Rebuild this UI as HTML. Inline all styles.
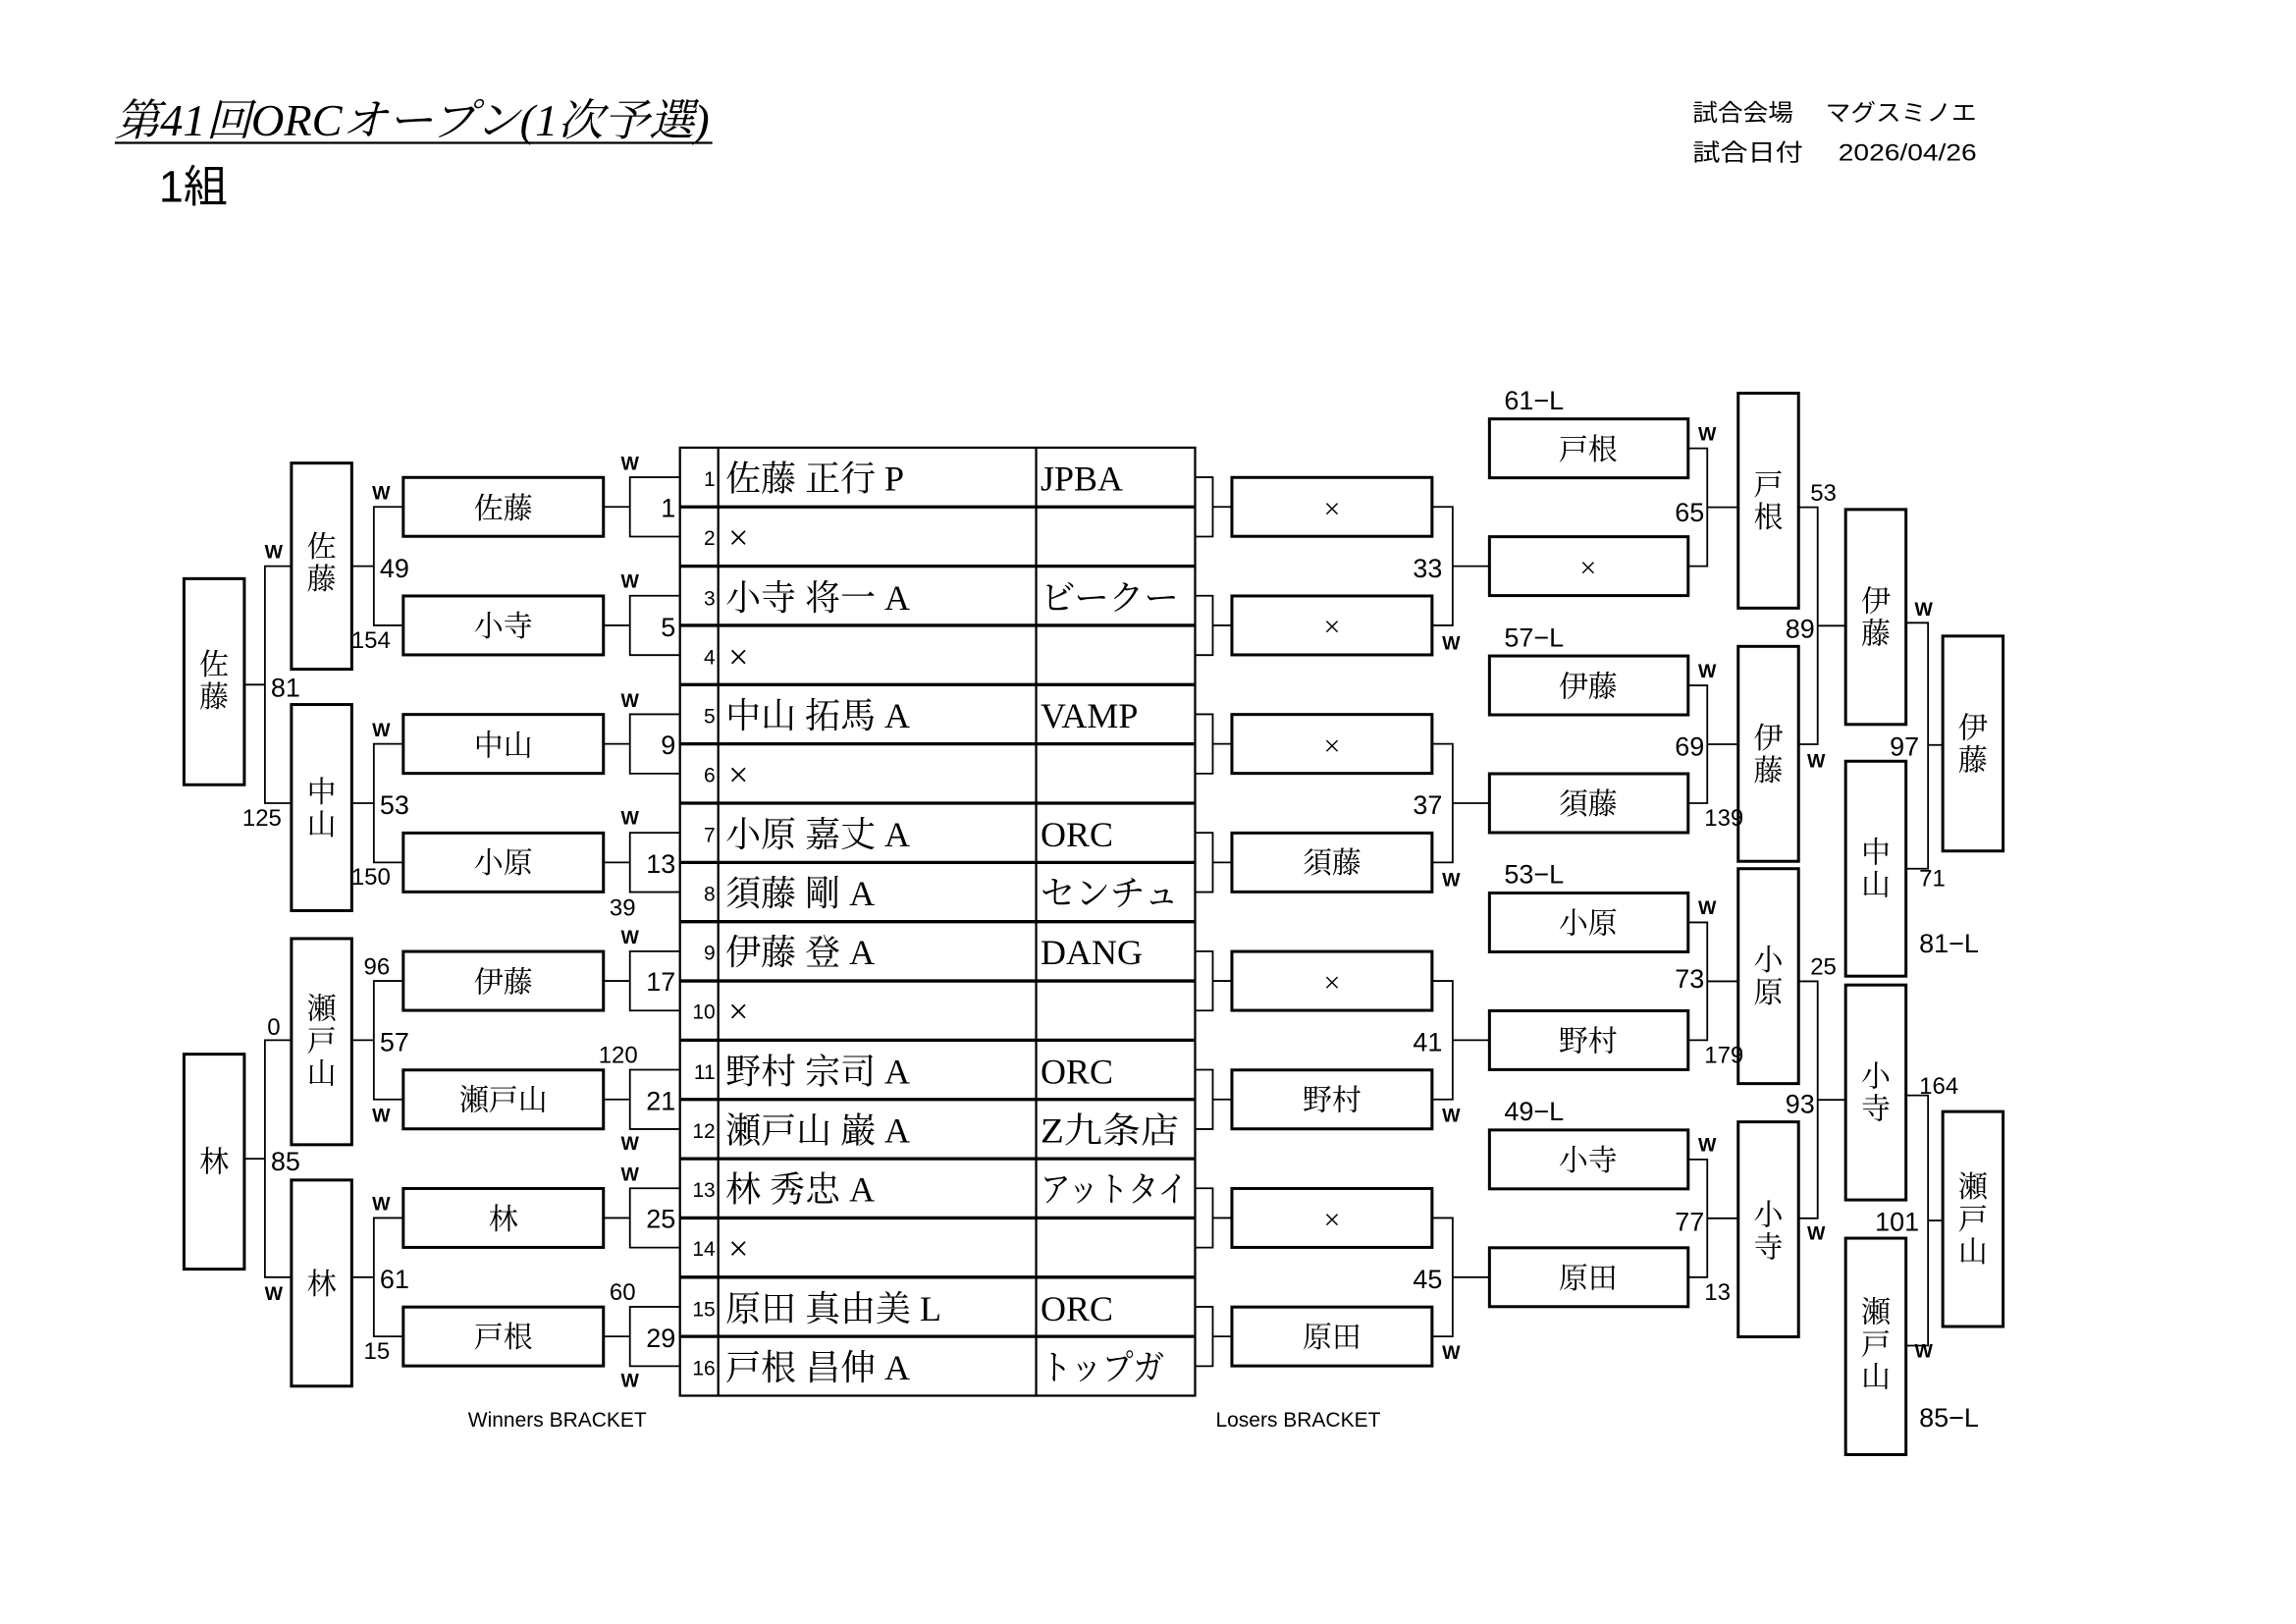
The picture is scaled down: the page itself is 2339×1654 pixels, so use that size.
<!DOCTYPE html>
<html><head><meta charset="utf-8"><style>
html,body{margin:0;padding:0;background:#fff;}
svg{display:block;}
.g{font-family:"Liberation Sans","Noto Sans CJK JP",sans-serif;fill:#000;}
.m{font-family:"Liberation Serif","Noto Serif CJK SC",serif;fill:#000;}
.w{font-family:"Liberation Sans",sans-serif;font-size:13px;font-weight:bold;text-anchor:middle;}
.b{fill:#fff;stroke:#000;stroke-width:2;}
.l{fill:none;stroke:#000;stroke-width:1.2;}
</style></head><body>
<svg width="2339" height="1654" viewBox="0 0 1560 1103" xmlns="http://www.w3.org/2000/svg">
<rect width="1560" height="1103" fill="#fff"/>
<text x="78" y="92" class="m" font-size="30" font-style="italic" textLength="404" lengthAdjust="spacingAndGlyphs">第41回ORCオープン(1次予選)</text>
<line x1="78" y1="97" x2="484" y2="97" stroke="#000" stroke-width="1.5"/>
<text x="108" y="137" class="g" font-size="30">1組</text>
<text x="1150" y="82" class="g" font-size="16" textLength="193" lengthAdjust="spacingAndGlyphs">試合会場　 マグスミノエ</text>
<text x="1150" y="109" class="g" font-size="16" textLength="193" lengthAdjust="spacingAndGlyphs">試合日付　 2026/04/26</text>

<rect x="462" y="304" width="350" height="644" fill="none" stroke="#000" stroke-width="1.5"/>
<line x1="488" y1="304" x2="488" y2="948" stroke="#000" stroke-width="1.5"/>
<line x1="704" y1="304" x2="704" y2="948" stroke="#000" stroke-width="1.5"/>
<g stroke="#000" stroke-width="2.2">
<line x1="462" y1="344.25" x2="812" y2="344.25"/><line x1="462" y1="384.5" x2="812" y2="384.5"/>
<line x1="462" y1="424.75" x2="812" y2="424.75"/><line x1="462" y1="465" x2="812" y2="465"/>
<line x1="462" y1="505.25" x2="812" y2="505.25"/><line x1="462" y1="545.5" x2="812" y2="545.5"/>
<line x1="462" y1="585.75" x2="812" y2="585.75"/><line x1="462" y1="626" x2="812" y2="626"/>
<line x1="462" y1="666.25" x2="812" y2="666.25"/><line x1="462" y1="706.5" x2="812" y2="706.5"/>
<line x1="462" y1="746.75" x2="812" y2="746.75"/><line x1="462" y1="787" x2="812" y2="787"/>
<line x1="462" y1="827.25" x2="812" y2="827.25"/><line x1="462" y1="867.5" x2="812" y2="867.5"/>
<line x1="462" y1="907.75" x2="812" y2="907.75"/>
</g>
<g class="g" font-size="14" text-anchor="end">
<text x="486" y="330">1</text><text x="486" y="370">2</text><text x="486" y="411">3</text><text x="486" y="451">4</text>
<text x="486" y="491">5</text><text x="486" y="531">6</text><text x="486" y="572">7</text><text x="486" y="612">8</text>
<text x="486" y="652">9</text><text x="486" y="692">10</text><text x="486" y="733">11</text><text x="486" y="773">12</text>
<text x="486" y="813">13</text><text x="486" y="853">14</text><text x="486" y="894">15</text><text x="486" y="934">16</text>
</g>
<g class="m" font-size="24">
<text x="493" y="333">佐藤 正行 P</text><text x="495" y="373">×</text>
<text x="493" y="414">小寺 将一 A</text><text x="495" y="454">×</text>
<text x="493" y="494">中山 拓馬 A</text><text x="495" y="534">×</text>
<text x="493" y="575">小原 嘉丈 A</text><text x="493" y="615">須藤 剛 A</text>
<text x="493" y="655">伊藤 登 A</text><text x="495" y="695">×</text>
<text x="493" y="736">野村 宗司 A</text><text x="493" y="776">瀬戸山 巌 A</text>
<text x="493" y="816">林 秀忠 A</text><text x="495" y="856">×</text>
<text x="493" y="897">原田 真由美 L</text><text x="493" y="937">戸根 昌伸 A</text>
<text x="707" y="333">JPBA</text><text x="707" y="414" textLength="94" lengthAdjust="spacingAndGlyphs">ビークー</text>
<text x="707" y="494">VAMP</text><text x="707" y="575">ORC</text><text x="707" y="615" textLength="94" lengthAdjust="spacingAndGlyphs">センチュ</text>
<text x="707" y="655">DANG</text><text x="707" y="736">ORC</text><text x="707" y="776" textLength="94" lengthAdjust="spacingAndGlyphs">Z九条店</text>
<text x="707" y="816" textLength="100" lengthAdjust="spacingAndGlyphs">アットタイ</text><text x="707" y="897">ORC</text><text x="707" y="937" textLength="84" lengthAdjust="spacingAndGlyphs">トップガ</text>
</g>

<g class="l">
<path d="M462 324.1H428V364.4H462M428 344.25H410"/>
<path d="M462 404.6H428V444.9H462M428 424.75H410"/>
<path d="M462 485.1H428V525.4H462M428 505.25H410"/>
<path d="M462 565.6H428V605.9H462M428 585.75H410"/>
<path d="M462 646.1H428V686.4H462M428 666.25H410"/>
<path d="M462 726.6H428V766.9H462M428 746.75H410"/>
<path d="M462 807.1H428V847.4H462M428 827.25H410"/>
<path d="M462 887.6H428V927.9H462M428 907.75H410"/>
</g>
<g class="g" font-size="18" text-anchor="end">
<text x="459" y="351">1</text><text x="459" y="432">5</text><text x="459" y="512">9</text><text x="459" y="593">13</text>
<text x="459" y="673">17</text><text x="459" y="754">21</text><text x="459" y="834">25</text><text x="459" y="915">29</text>
</g>
<g class="g w">
<text x="428" y="319">W</text><text x="428" y="399">W</text><text x="428" y="480">W</text><text x="428" y="560">W</text>
<text x="428" y="641">W</text><text x="428" y="781">W</text><text x="428" y="802">W</text><text x="428" y="942">W</text>
</g>
<g class="g" font-size="16" text-anchor="middle">
<text x="423" y="622">39</text><text x="420" y="722">120</text><text x="423" y="883">60</text>
</g>
<g class="b">
<rect x="274" y="324.25" width="136" height="40"/><rect x="274" y="404.75" width="136" height="40"/>
<rect x="274" y="485.25" width="136" height="40"/><rect x="274" y="565.75" width="136" height="40"/>
<rect x="274" y="646.25" width="136" height="40"/><rect x="274" y="726.75" width="136" height="40"/>
<rect x="274" y="807.25" width="136" height="40"/><rect x="274" y="887.75" width="136" height="40"/>
</g>
<g class="m" font-size="20" text-anchor="middle">
<text x="342" y="352">佐藤</text><text x="342" y="432">小寺</text><text x="342" y="513">中山</text><text x="342" y="593">小原</text>
<text x="342" y="674">伊藤</text><text x="342" y="754">瀬戸山</text><text x="342" y="835">林</text><text x="342" y="915">戸根</text>
</g>
<g class="l">
<path d="M274 344.25H254V424.75H274M254 384.5H239"/>
<path d="M274 505.25H254V585.75H274M254 545.5H239"/>
<path d="M274 666.25H254V746.75H274M254 706.5H239"/>
<path d="M274 827.25H254V907.75H274M254 867.5H239"/>
<path d="M198 384.5H180V545.5H198M180 465H166"/>
<path d="M198 706.5H180V867.5H198M180 787H166"/>
</g>
<g class="g" font-size="18">
<text x="258" y="392">49</text><text x="258" y="553">53</text><text x="258" y="714">57</text><text x="258" y="875">61</text>
<text x="184" y="473">81</text><text x="184" y="795">85</text>
</g>
<g class="g" font-size="16" text-anchor="middle">
<text x="252" y="440">154</text><text x="252" y="601">150</text><text x="256" y="662">96</text><text x="256" y="923">15</text>
<text x="178" y="561">125</text><text x="186" y="703">0</text>
</g>
<g class="g w">
<text x="259" y="339">W</text><text x="259" y="500">W</text><text x="259" y="762">W</text><text x="259" y="822">W</text>
<text x="186" y="379">W</text><text x="186" y="883">W</text>
</g>
<g class="b">
<rect x="198" y="314.5" width="41" height="140"/><rect x="198" y="478.5" width="41" height="140"/>
<rect x="198" y="637.5" width="41" height="140"/><rect x="198" y="801.5" width="41" height="140"/>
<rect x="125" y="393" width="41" height="140"/><rect x="125" y="716" width="41" height="146"/>
</g>
<g class="m" font-size="20" text-anchor="middle">
<text x="218.5" y="378">佐</text><text x="218.5" y="400">藤</text>
<text x="218.5" y="545">中</text><text x="218.5" y="567">山</text>
<text x="218.5" y="692">瀬</text><text x="218.5" y="714">戸</text><text x="218.5" y="736">山</text>
<text x="218.5" y="879">林</text>
<text x="145.5" y="458">佐</text><text x="145.5" y="480">藤</text>
<text x="145.5" y="796">林</text>
</g>

<g class="l">
<path d="M812 324.1H824V364.4H812M824 344.25H837"/>
<path d="M812 404.6H824V444.9H812M824 424.75H837"/>
<path d="M812 485.1H824V525.4H812M824 505.25H837"/>
<path d="M812 565.6H824V605.9H812M824 585.75H837"/>
<path d="M812 646.1H824V686.4H812M824 666.25H837"/>
<path d="M812 726.6H824V766.9H812M824 746.75H837"/>
<path d="M812 807.1H824V847.4H812M824 827.25H837"/>
<path d="M812 887.6H824V927.9H812M824 907.75H837"/>
<path d="M973 344.25H987V424.75H973M987 384.5H1012"/>
<path d="M973 505.25H987V585.75H973M987 545.5H1012"/>
<path d="M973 666.25H987V746.75H973M987 706.5H1012"/>
<path d="M973 827.25H987V907.75H973M987 867.5H1012"/>
<path d="M1147 304.5H1160V384.5H1147M1160 344.5H1181"/>
<path d="M1147 465.5H1160V545.5H1147M1160 505.5H1181"/>
<path d="M1147 626.5H1160V706.5H1147M1160 666.5H1181"/>
<path d="M1147 787.5H1160V867.5H1147M1160 827.5H1181"/>
<path d="M1222 344.5H1235V505.5H1222M1235 425H1254"/>
<path d="M1222 666.5H1235V827.5H1222M1235 747H1254"/>
<path d="M1295 423H1310V590H1295M1310 506H1320"/>
<path d="M1295 744H1310V914H1295M1310 829H1320"/>
</g>
<g class="b">
<rect x="837" y="324.25" width="136" height="40"/><rect x="837" y="404.75" width="136" height="40"/>
<rect x="837" y="485.25" width="136" height="40"/><rect x="837" y="565.75" width="136" height="40"/>
<rect x="837" y="646.25" width="136" height="40"/><rect x="837" y="726.75" width="136" height="40"/>
<rect x="837" y="807.25" width="136" height="40"/><rect x="837" y="887.75" width="136" height="40"/>
<rect x="1012" y="284.5" width="135" height="40"/><rect x="1012" y="364.5" width="135" height="40"/>
<rect x="1012" y="445.5" width="135" height="40"/><rect x="1012" y="525.5" width="135" height="40"/>
<rect x="1012" y="606.5" width="135" height="40"/><rect x="1012" y="686.5" width="135" height="40"/>
<rect x="1012" y="767.5" width="135" height="40"/><rect x="1012" y="847.5" width="135" height="40"/>
<rect x="1181" y="267" width="41" height="146"/><rect x="1181" y="439" width="41" height="146"/>
<rect x="1181" y="590" width="41" height="146"/><rect x="1181" y="762" width="41" height="146"/>
<rect x="1254" y="346" width="41" height="146"/><rect x="1254" y="517" width="41" height="146"/>
<rect x="1254" y="669" width="41" height="146"/><rect x="1254" y="841" width="41" height="147"/>
<rect x="1320" y="432" width="41" height="146"/><rect x="1320" y="755" width="41" height="146"/>
</g>
<g class="m" font-size="20" text-anchor="middle">
<text x="905" y="352">×</text><text x="905" y="432">×</text><text x="905" y="513">×</text><text x="905" y="593">須藤</text>
<text x="905" y="674">×</text><text x="905" y="754">野村</text><text x="905" y="835">×</text><text x="905" y="915">原田</text>
<text x="1079" y="312">戸根</text><text x="1079" y="392">×</text><text x="1079" y="473">伊藤</text><text x="1079" y="553">須藤</text>
<text x="1079" y="634">小原</text><text x="1079" y="714">野村</text><text x="1079" y="795">小寺</text><text x="1079" y="875">原田</text>
<text x="1201.5" y="336">戸</text><text x="1201.5" y="358">根</text>
<text x="1201.5" y="508">伊</text><text x="1201.5" y="530">藤</text>
<text x="1201.5" y="659">小</text><text x="1201.5" y="681">原</text>
<text x="1201.5" y="832">小</text><text x="1201.5" y="854">寺</text>
<text x="1274.5" y="415">伊</text><text x="1274.5" y="437">藤</text>
<text x="1274.5" y="586">中</text><text x="1274.5" y="608">山</text>
<text x="1274.5" y="738">小</text><text x="1274.5" y="760">寺</text>
<text x="1274.5" y="898">瀬</text><text x="1274.5" y="920">戸</text><text x="1274.5" y="942">山</text>
<text x="1340.5" y="501">伊</text><text x="1340.5" y="523">藤</text>
<text x="1340.5" y="813">瀬</text><text x="1340.5" y="835">戸</text><text x="1340.5" y="857">山</text>
</g>
<g class="g" font-size="18">
<text x="980" y="392" text-anchor="end">33</text><text x="980" y="553" text-anchor="end">37</text>
<text x="980" y="714" text-anchor="end">41</text><text x="980" y="875" text-anchor="end">45</text>
<text x="1022" y="278">61−L</text><text x="1022" y="439">57−L</text><text x="1022" y="600">53−L</text><text x="1022" y="761">49−L</text>
<text x="1158" y="354" text-anchor="end">65</text><text x="1158" y="513" text-anchor="end">69</text>
<text x="1158" y="671" text-anchor="end">73</text><text x="1158" y="836" text-anchor="end">77</text>
<text x="1233" y="433" text-anchor="end">89</text><text x="1233" y="756" text-anchor="end">93</text>
<text x="1304" y="513" text-anchor="end">97</text><text x="1304" y="836" text-anchor="end">101</text>
<text x="1304" y="647">81−L</text><text x="1304" y="969">85−L</text>
</g>
<g class="g" font-size="16">
<text x="1158" y="561">139</text><text x="1158" y="722">179</text><text x="1158" y="883">13</text>
<text x="1230" y="340">53</text><text x="1230" y="662">25</text>
<text x="1304" y="602">71</text><text x="1304" y="743">164</text>
</g>
<g class="g w">
<text x="986" y="441">W</text><text x="986" y="602">W</text><text x="986" y="762">W</text><text x="986" y="923">W</text>
<text x="1160" y="299">W</text><text x="1160" y="460">W</text><text x="1160" y="621">W</text><text x="1160" y="782">W</text>
<text x="1234" y="521">W</text><text x="1234" y="842">W</text>
<text x="1307" y="418">W</text><text x="1307" y="922">W</text>
</g>
<g class="g" font-size="14">
<text x="318" y="969">Winners BRACKET</text><text x="826" y="969">Losers BRACKET</text>
</g>
</svg>
</body></html>
